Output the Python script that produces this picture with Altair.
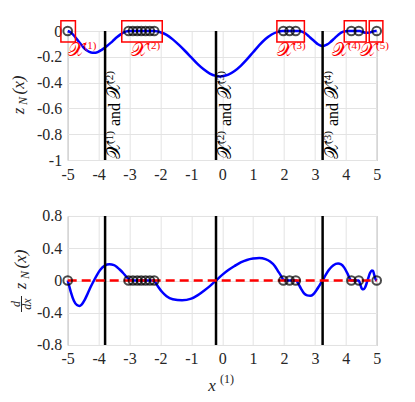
import altair as alt
import pandas as pd

# ---------------- data ----------------
x_top = [-5.0,-4.9,-4.8,-4.7,-4.6,-4.5,-4.4,-4.3,-4.2,-4.1,-4.0,-3.9,-3.8,-3.7,-3.6,-3.5,-3.4,-3.3,-3.2,-3.1,-3.0,
         -2.8,-2.6,-2.4,-2.2,-2.1,-2.0,-1.8,-1.6,-1.4,-1.2,-1.0,-0.8,-0.6,-0.4,-0.2,-0.1,0.0,
         0.2,0.4,0.6,0.8,1.0,1.2,1.4,1.6,1.8,1.95,2.2,2.5,2.6,2.7,2.8,2.9,3.0,3.1,3.2,3.25,
         3.3,3.4,3.5,3.6,3.7,3.8,3.9,4.0,4.1,4.3,4.45,4.55,4.65,4.75,4.85,4.95,5.0]
z_top = [0,-0.012,-0.035,-0.065,-0.095,-0.125,-0.148,-0.162,-0.168,-0.168,-0.16,-0.146,-0.13,-0.11,-0.09,-0.068,-0.047,-0.028,-0.013,-0.003,0,
         0,0,0,0,-0.003,-0.01,-0.03,-0.065,-0.108,-0.155,-0.205,-0.255,-0.297,-0.33,-0.348,-0.352,-0.35,
         -0.338,-0.31,-0.27,-0.22,-0.165,-0.11,-0.062,-0.027,-0.007,0,0,0,-0.006,-0.02,-0.04,-0.062,-0.083,-0.103,-0.114,-0.116,
         -0.114,-0.104,-0.086,-0.064,-0.042,-0.021,-0.007,-0.001,0,0,0,-0.008,-0.014,-0.013,-0.006,0,0]

x_bot = [-5.0,-4.95,-4.9,-4.8,-4.7,-4.62,-4.55,-4.45,-4.35,-4.25,-4.15,-4.05,-3.95,-3.8,-3.65,-3.5,-3.4,-3.3,-3.2,-3.1,
         -3.0,-2.9,-2.6,-2.2,-2.15,-2.05,-1.95,-1.8,-1.6,-1.3,-1.0,-0.8,-0.6,-0.4,-0.2,0.0,0.2,0.4,0.6,0.8,
         1.0,1.2,1.4,1.55,1.7,1.8,1.9,1.98,2.05,2.4,2.45,2.55,2.65,2.75,2.85,2.95,3.05,3.15,3.25,3.35,
         3.45,3.6,3.75,3.85,3.95,4.05,4.12,4.18,4.42,4.47,4.52,4.57,4.62,4.67,4.72,4.78,4.84,4.88,4.92,4.96,5.0]
dz_bot = [0,-0.07,-0.14,-0.25,-0.305,-0.316,-0.3,-0.24,-0.16,-0.075,0,0.07,0.13,0.185,0.2,0.19,0.165,0.13,0.09,0.045,
          0.012,0,0,0,-0.03,-0.09,-0.14,-0.195,-0.232,-0.246,-0.225,-0.185,-0.13,-0.07,0,0.07,0.13,0.18,0.225,0.255,
          0.272,0.28,0.265,0.235,0.18,0.12,0.06,0.01,0,0,-0.03,-0.1,-0.16,-0.185,-0.19,-0.17,-0.12,-0.06,0,0.07,
          0.13,0.19,0.21,0.2,0.16,0.09,0.03,0,0,-0.05,-0.1,-0.11,-0.09,-0.04,0.02,0.09,0.125,0.12,0.07,0.02,0]

cluster_points = [-5.0,
                  -3.03,-2.89,-2.75,-2.62,-2.48,-2.34,-2.2,
                  1.98,2.18,2.38,
                  4.18,4.42,
                  5.0]
box_left = [-5.22,-3.25,1.77,3.95,4.76]
box_right = [-4.75,-1.94,2.66,4.66,5.2]
box_top = [0.08]*5
box_bottom = [-0.085]*5
label_x = [-5.0,-2.94,1.77,3.55,4.46]       # left edge of each red label
label_y = [-0.196]*5                        # baseline of each red label
label_sup = ["(1)","(2)","(3)","(4)","(5)"]
sep_x = [-3.79,-0.2,3.25]
sep_first = ["(1)","(2)","(3)"]
sep_second = ["(2)","(3)","(4)"]
zero_x = [-5.0,5.0]
zero_y = [0.0,0.0]
x_ticks = [-5,-4,-3,-2,-1,0,1,2,3,4,5]
top_ticks = [-1,-0.8,-0.6,-0.4,-0.2,0]
bot_ticks = [-0.8,-0.4,0,0.4,0.8]

# ---------------- tables ----------------
df_top = pd.DataFrame({"x": x_top, "y": z_top})
df_bot = pd.DataFrame({"x": x_bot, "y": dz_bot})
df_pts = pd.DataFrame({"x": cluster_points, "y": [0.0]*len(cluster_points)})
df_box = pd.DataFrame({"x1": box_left, "x2": box_right, "y1": box_top, "y2": box_bottom,
                       "lx": label_x, "ly": label_y, "sup": label_sup})
df_sep = pd.DataFrame({"x": sep_x, "a": sep_first, "b": sep_second})
df_zero = pd.DataFrame({"x": zero_x, "y": zero_y})
one = pd.DataFrame({"k": [0]})

W, H = 309, 129
FONT = "Liberation Serif, DejaVu Serif, serif"
TXT = "#262626"
SCRIPT_X = "𝒳"

xs = alt.Scale(domain=[-5, 5], nice=False, zero=False)
ys_top = alt.Scale(domain=[-1, 0], nice=False, zero=False)
ys_bot = alt.Scale(domain=[-0.8, 0.8], nice=False, zero=False)

def xaxis():
    return alt.Axis(values=x_ticks, labelExpr="'' + datum.value", grid=True, ticks=False,
                    domain=False, title=None, labelPadding=6, labelFlush=False,
                    labelFont=FONT, labelFontSize=16, labelColor=TXT)

def yaxis(vals):
    return alt.Axis(values=vals, labelExpr="'' + datum.value", grid=True, ticks=False,
                    domain=False, title=None, labelPadding=6, labelFlush=False,
                    labelFont=FONT, labelFontSize=16, labelColor=TXT)

def piece(text, px, py, size, style="italic", angle=0, align="center", baseline="alphabetic"):
    return alt.Chart(one).mark_text(text=text, angle=angle, align=align, baseline=baseline,
                                    fontSize=size, fontStyle=style, font=FONT, color=TXT
                                    ).encode(x=alt.value(px), y=alt.value(py))

X_top = alt.X("x:Q", scale=xs, axis=xaxis(), title=None)
Y_top = alt.Y("y:Q", scale=ys_top, axis=yaxis(top_ticks), title=None)
X_bot = alt.X("x:Q", scale=xs, axis=xaxis(), title=None)
Y_bot = alt.Y("y:Q", scale=ys_bot, axis=yaxis(bot_ticks), title=None)

# ---------------- top panel ----------------
top_curve = alt.Chart(df_top).mark_line(color="#0000ff", strokeWidth=2.5, interpolate="monotone").encode(x=X_top, y=Y_top)
top_rules = alt.Chart(df_sep).mark_rule(color="black", strokeWidth=2.5).encode(x=X_top)

def sep_piece(text=None, field=None, dx=0, dy=15, size=16):
    kw = dict(angle=270, align="left", baseline="alphabetic", dx=dx, dy=dy,
              fontSize=size, font=FONT, color="black")
    if text is not None:
        kw["text"] = text
    enc = dict(x=X_top, y=alt.value(H))
    if field is not None:
        enc["text"] = alt.Text(field + ":N")
    return alt.Chart(df_sep).mark_text(**kw).encode(**enc)

sep_layers = [
    sep_piece(text=SCRIPT_X, dx=1, size=19),
    sep_piece(field="a", dx=16, dy=8, size=11),
    sep_piece(text="and", dx=34, size=16),
    sep_piece(text=SCRIPT_X, dx=61, size=19),
    sep_piece(field="b", dx=76, dy=8, size=11),
]

top_boxes = alt.Chart(df_box).mark_rect(fillOpacity=0, stroke="#ff0000", strokeWidth=1.5).encode(
    x=alt.X("x1:Q", scale=xs, axis=xaxis(), title=None), x2="x2:Q",
    y=alt.Y("y1:Q", scale=ys_top, axis=yaxis(top_ticks), title=None), y2="y2:Q")
top_pts = alt.Chart(df_pts).mark_point(shape="circle", filled=False, color="black", size=75, strokeWidth=2).encode(x=X_top, y=Y_top)
LX = alt.X("lx:Q", scale=xs, axis=xaxis(), title=None)
LY = alt.Y("ly:Q", scale=ys_top, axis=yaxis(top_ticks), title=None)
top_labels = alt.Chart(df_box).mark_text(text=SCRIPT_X, fontSize=19, font=FONT, color="#ff0000",
                                         align="left", baseline="alphabetic").encode(x=LX, y=LY)
top_sups = alt.Chart(df_box).mark_text(fontSize=11, font=FONT, color="#ff0000", align="left",
                                       baseline="alphabetic", dx=16, dy=-7).encode(x=LX, y=LY, text="sup:N")
anchor_tl = alt.Chart(one).mark_rule(opacity=0).encode(
    x=alt.value(-75), x2=alt.value(-75), y=alt.value(-25), y2=alt.value(-24))

top = alt.layer(
    top_curve, top_rules, *sep_layers, top_boxes, top_pts, top_labels, top_sups,
    piece("(x)", -43.7, 54, 17, angle=270),
    piece("N", -40.7, 70, 12, angle=270),
    piece("z", -43.7, 80, 17, angle=270),
    anchor_tl,
).properties(width=W, height=H)

# ---------------- bottom panel ----------------
bot_curve = alt.Chart(df_bot).mark_line(color="#0000ff", strokeWidth=2.5, interpolate="monotone").encode(x=X_bot, y=Y_bot)
bot_rules = alt.Chart(df_sep).mark_rule(color="black", strokeWidth=2.5).encode(x=X_bot)
bot_zero = alt.Chart(df_zero).mark_line(color="#ff0000", strokeWidth=2.5, strokeDash=[9, 5]).encode(x=X_bot, y=Y_bot)
bot_pts = alt.Chart(df_pts).mark_point(shape="circle", filled=False, color="black", size=75, strokeWidth=2).encode(x=X_bot, y=Y_bot)
anchor_br = alt.Chart(one).mark_rule(opacity=0).encode(
    x=alt.value(329), x2=alt.value(329), y=alt.value(176), y2=alt.value(177))
frac_bar = alt.Chart(one).mark_rule(color=TXT, strokeWidth=1).encode(
    x=alt.value(-46.2), x2=alt.value(-46.2), y=alt.value(80), y2=alt.value(96))

bottom = alt.layer(
    bot_curve, bot_rules, bot_zero, bot_pts,
    piece("(x)", -41.7, 43, 17, angle=270),
    piece("N", -38.7, 59, 12, angle=270),
    piece("z", -41.7, 70, 17, angle=270),
    piece("d", -47.7, 88, 12, angle=270),
    piece("dx", -36.7, 88, 12, angle=270),
    frac_bar,
    piece("x", 144.3, 175, 17),
    piece("(1)", 159.3, 167, 12, style="normal"),
    anchor_br,
).properties(width=W, height=H)

chart = alt.vconcat(top, bottom, spacing=56, bounds="flush").properties(
    padding={"left": -16.3, "top": -3, "right": 0, "bottom": 0}
).configure_view(stroke="#9a9a9a", strokeWidth=1).configure_axis(
    gridColor="#e3e3e3", gridWidth=1, labelFont=FONT, labelFontSize=16, labelColor=TXT
)

chart.save("out.html", embed_options={"renderer": "svg", "actions": False})
